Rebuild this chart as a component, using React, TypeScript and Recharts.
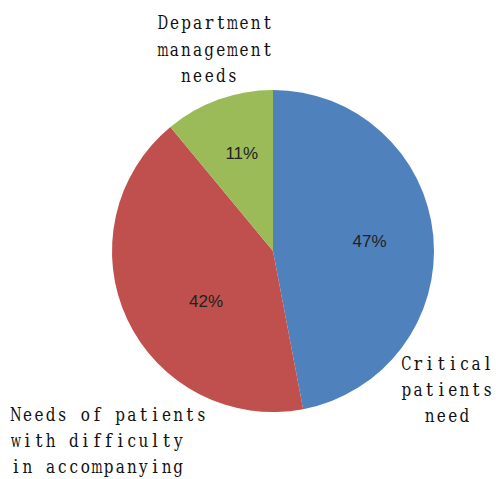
import React from "react";
import { PieChart, Pie, Cell } from "recharts";

const categories = [
  "Critical patients need",
  "Needs of patients with difficulty in accompanying",
  "Department management needs",
];
const values = [47, 42, 11];
const colors = ["#4F81BD", "#C0504D", "#9BBB59"];
const percentLabels = ["47%", "42%", "11%"];
const categoryLines = [
  ["Critical", "patients", "need"],
  ["Needs of patients", "with difficulty", "in accompanying"],
  ["Department", "management", "needs "],
];

const data = categories.map((name, i) => ({ name, value: values[i] }));

// label layout (positions of text only)
const pctPos = [
  { r: 97, da: 0.5 },
  { r: 84, da: 12 },
  { r: 102, da: -2 },
];
const catLayout = [
  { x: 447, y: 370, anchor: "middle", dy: 26 },
  { x: 10, y: 421, anchor: "start", dy: 26 },
  { x: 215, y: 29, anchor: "middle", dy: 26.5 },
];
const CELL = 11.6;

const RAD = Math.PI / 180;

const glyphScale = (ch: string) => {
  if ("mwMW".includes(ch)) return 0.63;
  if ("DNCOG".includes(ch)) return 0.7;
  if ("ilfjtr".includes(ch)) return 0.92;
  return 0.8;
};

const MonoLine = ({ text, x, y, anchor }: { text: string; x: number; y: number; anchor: string }) => {
  const n = text.length;
  const x0 = anchor === "middle" ? x - (n * CELL) / 2 : x;
  return (
    <g>
      {text.split("").map((ch, k) =>
        ch === " " ? null : (
          <text
            key={k}
            transform={`translate(${x0 + (k + 0.5) * CELL},${y}) scale(${glyphScale(ch)},1)`}
            x={0}
            y={0}
            textAnchor="middle"
            fontFamily="'DejaVu Serif', 'Liberation Serif', serif"
            fontSize={19}
            fill="#111"
          >
            {ch}
          </text>
        )
      )}
    </g>
  );
};

const renderLabel = (props: any) => {
  const { cx, cy, midAngle, index } = props;
  const p = pctPos[index];
  const a = (midAngle + p.da) * RAD;
  const x = cx + p.r * Math.cos(a);
  const y = cy - p.r * Math.sin(a);
  const c = catLayout[index];
  return (
    <g key={"lbl" + index}>
      <text
        x={x}
        y={y}
        textAnchor="middle"
        dominantBaseline="central"
        fontFamily="'Liberation Sans', Arial, sans-serif"
        fontSize={17}
        fill="#222"
      >
        {percentLabels[index]}
      </text>
      {categoryLines[index].map((ln, j) => (
        <MonoLine key={j} text={ln} x={c.x} y={c.y + j * c.dy} anchor={c.anchor} />
      ))}
    </g>
  );
};

export default function App() {
  return (
    <div style={{ position: "absolute", left: 0, top: 0, width: 496, height: 479, background: "#fff" }}>
      <PieChart width={496} height={479} margin={{ top: 0, right: 0, bottom: 0, left: 0 }}>
        <Pie
          data={data}
          dataKey="value"
          nameKey="name"
          cx={273}
          cy={251}
          outerRadius={161}
          startAngle={90}
          endAngle={-270}
          stroke="none"
          labelLine={false}
          label={renderLabel}
          isAnimationActive={false}
        >
          {data.map((d, i) => (
            <Cell key={d.name} fill={colors[i]} />
          ))}
        </Pie>
      </PieChart>
    </div>
  );
}
